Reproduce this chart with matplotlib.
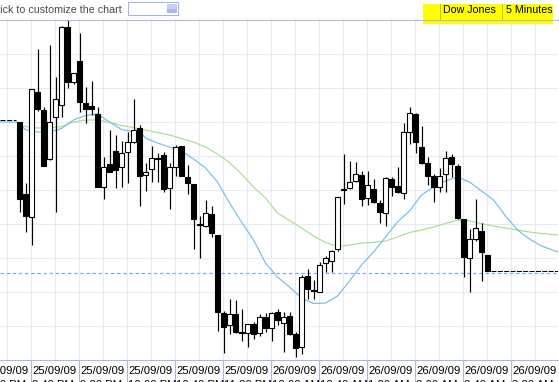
import matplotlib
matplotlib.use("Agg")
import matplotlib.pyplot as plt
import numpy as np
from matplotlib.lines import Line2D
from matplotlib.patches import Rectangle

W, H = 559, 382

# 5-minute Dow Jones candles (index points)
opens = [9739, 9703, 9691.5, 9754, 9745, 9720.5, 9741.5, 9747.5, 9786.5, 9759,
         9769.5, 9748.5, 9747, 9743, 9706.5, 9718, 9724.5, 9716.5, 9724, 9729,
         9736, 9712.5, 9715.5, 9721, 9722.5, 9706, 9716.5, 9727, 9711.5, 9708,
         9688, 9687, 9693, 9682.5, 9643.5, 9637.5, 9643, 9634, 9633.5, 9638,
         9633.5, 9641.5, 9636, 9644, 9638.5, 9642, 9633, 9626.5, 9662, 9655,
         9654, 9668.5, 9669.5, 9675.5, 9705.5, 9706, 9709.5, 9712.5, 9701, 9705.5,
         9698.5, 9693.5, 9710.5, 9707, 9703.5, 9734, 9743, 9726.5, 9718.5, 9712,
         9706.5, 9713, 9721.5, 9717, 9690.5, 9671, 9680.5, 9684.5, 9672.5]
highs = [9739, 9708.5, 9755.5, 9775.5, 9746.5, 9777.5, 9761.5, 9787, 9790.5, 9763.5,
         9783.5, 9756.5, 9759.5, 9746.5, 9721.5, 9735, 9732.5, 9729.5, 9734, 9750.5,
         9737.5, 9718.5, 9727, 9723.5, 9724, 9718.5, 9727.5, 9727, 9717.5, 9708,
         9692, 9700, 9697, 9682.5, 9644.5, 9650.5, 9650, 9645.5, 9638, 9639,
         9643, 9643.5, 9644, 9645.5, 9644, 9644, 9634, 9662.5, 9665.5, 9660,
         9669, 9672, 9675, 9701.5, 9723, 9719.5, 9719, 9714.5, 9714.5, 9710.5,
         9700, 9711.5, 9711.5, 9716.5, 9738.5, 9746.5, 9743.5, 9737, 9721.5, 9713,
         9716, 9724.5, 9723, 9718, 9690.5, 9685.5, 9700.5, 9688.5, 9672.5]
lows = [9694, 9684, 9677.5, 9744.5, 9717, 9720, 9694, 9741.5, 9756, 9758,
        9744, 9738.5, 9742.5, 9706.5, 9700.5, 9714, 9706, 9706.5, 9708.5, 9728.5,
        9697, 9704.5, 9709, 9709, 9704, 9695.5, 9712, 9712, 9703, 9675.5,
        9671, 9686.5, 9681.5, 9634.5, 9623.5, 9633, 9633.5, 9629.5, 9626.5, 9630.5,
        9632, 9634, 9629.5, 9637.5, 9624, 9632.5, 9621.5, 9623, 9650.5, 9650.5,
        9654, 9664, 9664, 9674.5, 9698, 9705.5, 9709, 9697, 9697.5, 9698.5,
        9688.5, 9687, 9702, 9703.5, 9700.5, 9728, 9723.5, 9718, 9707.5, 9699,
        9704, 9704, 9711.5, 9690.5, 9661.5, 9654, 9679.5, 9659.5, 9664.5]
closes = [9700.5, 9692, 9755.5, 9745.5, 9717, 9739, 9750.5, 9786.5, 9759, 9763.5,
          9749, 9745.5, 9745.5, 9706.5, 9716.5, 9714, 9715, 9723.5, 9729, 9735,
          9712, 9714, 9721, 9720.5, 9705.5, 9716.5, 9726.5, 9712, 9708.5, 9690.5,
          9687.5, 9693.5, 9683.5, 9644, 9636.5, 9643, 9634, 9633.5, 9638, 9633,
          9641.5, 9636, 9643.5, 9640, 9641.5, 9633, 9626, 9661.5, 9655.5, 9654.5,
          9667.5, 9671, 9674.5, 9701.5, 9705, 9709, 9713, 9700.5, 9707.5, 9699,
          9694, 9711, 9706.5, 9704, 9734, 9743.5, 9729, 9718.5, 9712, 9706.5,
          9712, 9721, 9718, 9691, 9671.5, 9680.5, 9686, 9674, 9664.5]

# moving averages, sampled along the candle index
ma_fast_idx = [-3.25, -0.5, 1, 3, 5, 7, 9, 11, 13, 15, 17, 19, 20, 21] + list(range(23, 88, 2)) + [89.75]
ma_fast = [9739, 9739, 9735.25, 9734, 9734, 9735.75, 9740, 9742.25, 9743, 9739,
           9735.25, 9734, 9734.5, 9731, 9728.5, 9726.5, 9724.5, 9720.5, 9716, 9709,
           9698.5, 9689, 9680, 9668.5, 9661.5, 9656.5, 9651, 9648.25, 9648.5, 9652,
           9659.5, 9667.5, 9674, 9681.5, 9689, 9694.5, 9702.5, 9706.5, 9709.5, 9711.5,
           9709, 9704.5, 9700, 9692, 9685, 9680.5, 9677, 9674]
ma_slow_idx = [0] + list(range(1, 88, 2)) + [89.75]
ma_slow = [9737.5, 9736.75, 9736, 9736, 9736.75, 9739, 9740, 9740, 9738.75, 9737.25,
           9736.25, 9735, 9733.75, 9732.5, 9730.75, 9729, 9726.5, 9723, 9718.75, 9713,
           9706.5, 9701, 9693.5, 9689.75, 9686, 9682, 9678.75, 9676.75, 9677.5, 9678.5,
           9678.75, 9679.5, 9681.5, 9683.75, 9685, 9686.5, 9688.25, 9690, 9689.5, 9688.25,
           9687, 9686, 9685, 9684, 9683.25, 9682.5]

prev_close = 9740.0
ref_level = 9663.75

tick_dates = ["25/09/09"] * 6 + ["26/09/09"] * 7
tick_times = ["8:00 PM", "8:40 PM", "9:20 PM", "10:00 PM", "10:40 PM", "11:20 PM",
              "12:00 AM", "12:40 AM", "1:20 AM", "2:00 AM", "2:40 AM", "3:20 AM", "4:00 AM"]

SPINE = "#a7bae3"
GRID = "#e9e9f6"
FONT = "Liberation Sans"
plt.rcParams["font.family"] = [FONT, "DejaVu Sans"]


def fx(x):
    return x / W


def fy(y):
    return 1 - y / H


fig = plt.figure(figsize=(W / 100, H / 100), dpi=100, facecolor="white")
ax = fig.add_axes([0, fy(359.5), 558 / W, (359.5 - 20) / H])
ax.set_xlim(-19.5 / 6, (558 - 19.5) / 6)
ax.set_ylim(9800 - 359.5 / 2, 9800 - 20 / 2)
ax.set_xticks([]); ax.set_yticks([])
for s in ("left", "right"):
    ax.spines[s].set_visible(False)
for s in ("top", "bottom"):
    ax.spines[s].set_color(SPINE); ax.spines[s].set_linewidth(0.75)

# grid: 17 points apart, 4 candles apart
tick0 = -37 / 6
for g in np.arange(9637, 9785, 17):
    ax.axhline(g, color=GRID, lw=0.75, zorder=0)
for v in tick0 + 4 + 4 * np.arange(24):
    ax.axvline(v, color=GRID, lw=0.75, zorder=0)

o, h, l, c = (np.array(a, dtype=float) for a in (opens, highs, lows, closes))
idx = np.arange(len(o))
up = c > o
ax.axhline(ref_level, color="#7aaaf0", lw=0.85, ls=(0, (2.9, 2.3)), zorder=1)
ax.plot(ma_slow_idx, ma_slow, color="#a9df8a", lw=0.85, zorder=2)
ax.plot(ma_fast_idx, ma_fast, color="#74bfe9", lw=0.85, zorder=2)
ax.vlines(idx, l, h, color="black", lw=0.85, zorder=3)
lo = np.minimum(o, c)
hgt = np.maximum(np.abs(c - o), 0.35)
ax.bar(idx[up], hgt[up], bottom=lo[up], width=0.76, color="white",
       edgecolor="black", lw=0.8, zorder=4)
ax.bar(idx[~up], hgt[~up], bottom=lo[~up], width=0.76, color="black",
       edgecolor="black", lw=0.8, zorder=4)
ax.plot([idx[-1] + 0.6, ax.get_xlim()[1]], [c[-1], c[-1]], color="black", lw=0.75,
        ls=(0, (4.8, 1.3)), zorder=3)
ax.plot([ax.get_xlim()[0], -0.55], [prev_close, prev_close], color="black", lw=0.75,
        ls=(0, (4.8, 1.6)), zorder=3)

# date/time ticks under the plot
xt = ax.get_xaxis_transform()
for j, (d, t) in enumerate(zip(tick_dates, tick_times)):
    pos = tick0 + 8 * j
    ax.plot([pos, pos], [0, -24 / 339.5], transform=xt, clip_on=False, color=SPINE, lw=0.75)
    ax.annotate(d, xy=(pos, 0), xycoords=xt, xytext=(1.1, -15 * 0.72),
                textcoords="offset points", va="baseline", ha="left", fontsize=8.1,
                color="black", annotation_clip=False)
    ax.annotate(t, xy=(pos, 0), xycoords=xt, xytext=(1.1, -28 * 0.72),
                textcoords="offset points", va="baseline", ha="left", fontsize=8.1,
                color="black", annotation_clip=False)

# header strip
fig.text(fx(-10), fy(12.7), "Click to customize the chart", fontsize=7.7,
         color="#4a4a4a", va="baseline")
fig.add_artist(Rectangle((fx(127.5), fy(15)), 50.5 / W, 13 / H, transform=fig.transFigure,
                         fc="white", ec="#a4b4e4", lw=0.75))
fig.add_artist(Rectangle((fx(166.7), fy(8.7)), 10.6 / W, 4.7 / H, transform=fig.transFigure,
                         fc="#c6cef2", ec="none"))
fig.add_artist(Rectangle((fx(166.7), fy(13.3)), 10.6 / W, 4.6 / H, transform=fig.transFigure,
                         fc="#a9b6e6", ec="none"))
fig.add_artist(Rectangle((fx(423), fy(24)), 130 / W, 20 / H, transform=fig.transFigure,
                         fc="#ffff00", ec="none", zorder=5))
for xd in (439.5, 502):
    fig.add_artist(Line2D([fx(xd), fx(xd)], [fy(4), fy(20)], transform=fig.transFigure,
                          color="#c4c400", lw=0.75, zorder=6))
fig.add_artist(Line2D([0, 1], [fy(20), fy(20)], transform=fig.transFigure,
                      color=SPINE, lw=0.75, zorder=6))
fig.text(fx(443), fy(12.7), "Dow Jones", fontsize=7.7, color="black", va="baseline", zorder=7)
fig.text(fx(505.5), fy(12.7), "5 Minutes", fontsize=7.7, color="black", va="baseline", zorder=7)

fig.savefig("out.png", dpi=100)
